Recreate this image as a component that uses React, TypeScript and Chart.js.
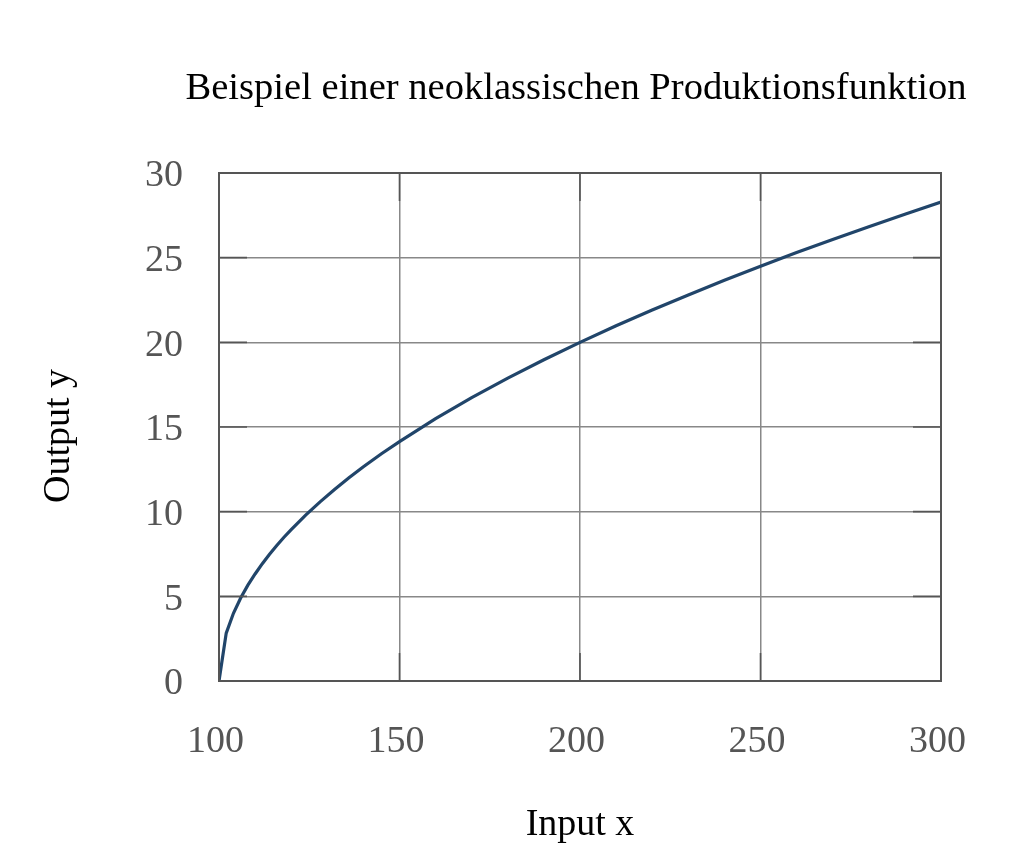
import React, { useEffect, useRef } from "react";
import { Chart, registerables } from "chart.js";

Chart.register(...registerables);

// values
const inputX = [100, 102, 104, 106, 108, 110, 112, 114, 116, 118, 120, 124, 128, 132, 136, 140, 145, 150, 160, 170, 180, 190, 200, 210, 220, 230, 240, 250, 260, 270, 280, 290, 300];
const outputY = [0, 2.83, 4.0, 4.9, 5.66, 6.32, 6.93, 7.48, 8.0, 8.49, 8.94, 9.8, 10.58, 11.31, 12.0, 12.65, 13.42, 14.14, 15.49, 16.73, 17.89, 18.97, 20.0, 20.98, 21.91, 22.8, 23.66, 24.49, 25.3, 26.08, 26.83, 27.57, 28.28];
const xTicks = [100, 150, 200, 250, 300];
const yTicks = [0, 5, 10, 15, 20, 25, 30];

const titleText = "Beispiel einer neoklassischen Produktionsfunktion";
const xTitle = "Input x";
const yTitle = "Output y";

const FONT = "'Liberation Serif', 'Times New Roman', serif";
const frameColor = "#555555";

// frame on all four sides plus inward tick marks
const framePlugin = {
  id: "frame",
  afterDatasetsDraw(chart: Chart) {
    const { ctx, chartArea } = chart;
    const { left, right, top, bottom } = chartArea;
    const xs = chart.scales.x;
    const ys = chart.scales.y;
    const len = 28;
    ctx.save();
    ctx.strokeStyle = frameColor;
    ctx.lineWidth = 1.6;
    ctx.beginPath();
    xTicks.forEach((v) => {
      const px = xs.getPixelForValue(v);
      ctx.moveTo(px, bottom);
      ctx.lineTo(px, bottom - len);
      ctx.moveTo(px, top);
      ctx.lineTo(px, top + len);
    });
    yTicks.forEach((v) => {
      const py = ys.getPixelForValue(v);
      ctx.moveTo(left, py);
      ctx.lineTo(left + len, py);
      ctx.moveTo(right, py);
      ctx.lineTo(right - len, py);
    });
    ctx.stroke();
    ctx.lineWidth = 2;
    ctx.strokeRect(left, top, right - left, bottom - top);
    ctx.restore();
  },
};

// chart title and y-axis title, placed like the reference
const titlesPlugin = {
  id: "titles",
  afterDraw(chart: Chart) {
    const { ctx, chartArea } = chart;
    const cx = (chartArea.left + chartArea.right) / 2;
    const cy = (chartArea.top + chartArea.bottom) / 2;
    ctx.save();
    ctx.fillStyle = "#000000";
    ctx.textAlign = "center";
    ctx.textBaseline = "middle";
    ctx.font = `38.6px ${FONT}`;
    ctx.fillText(titleText, cx - 4, 89);
    ctx.font = `38px ${FONT}`;
    ctx.translate(59, cy + 9);
    ctx.rotate(-Math.PI / 2);
    ctx.fillText(yTitle, 0, 0);
    ctx.restore();
  },
};

export default function App() {
  const canvasRef = useRef<HTMLCanvasElement>(null);

  useEffect(() => {
    const ctx = canvasRef.current?.getContext("2d");
    if (!ctx) return;
    const chart = new Chart(ctx, {
      type: "line",
      data: {
        datasets: [
          {
            data: inputX.map((x, i) => ({ x, y: outputY[i] })),
            borderColor: "#21456a",
            borderWidth: 3.2,
            pointRadius: 0,
            tension: 0,
            fill: false,
          },
        ],
      },
      options: {
        animation: false,
        responsive: true,
        maintainAspectRatio: false,
        layout: { padding: { left: 0, right: 83, top: 173, bottom: 0 } },
        plugins: {
          legend: { display: false },
          tooltip: { enabled: false },
          title: { display: false },
        },
        scales: {
          x: {
            type: "linear",
            min: 100,
            max: 300,
            afterBuildTicks: (scale: any) => {
              scale.ticks = xTicks.map((v) => ({ value: v }));
            },
            afterFit: (scale: any) => {
              scale.height = 173;
            },
            grid: { color: "#888888", lineWidth: 1.5, drawTicks: false },
            border: { display: false },
            ticks: {
              color: "#555555",
              padding: 38,
              labelOffset: -3.5,
              maxRotation: 0,
              font: { family: FONT, size: 38, lineHeight: 1.2 },
            },
            title: {
              display: true,
              text: xTitle,
              color: "#000000",
              font: { family: FONT, size: 38, lineHeight: 1.2 },
              padding: { top: 0, bottom: 6 },
            },
          },
          y: {
            type: "linear",
            min: 0,
            max: 30,
            afterBuildTicks: (scale: any) => {
              scale.ticks = yTicks.map((v) => ({ value: v }));
            },
            afterFit: (scale: any) => {
              scale.width = 219;
            },
            grid: { color: "#888888", lineWidth: 1.5, drawTicks: false },
            border: { display: false },
            ticks: {
              color: "#555555",
              padding: 36,
              labelOffset: 3.5,
              font: { family: FONT, size: 38, lineHeight: 1.2 },
            },
            title: { display: false },
          },
        },
      },
      plugins: [framePlugin, titlesPlugin],
    });
    return () => {
      chart.destroy();
    };
  }, []);

  return (
    <div style={{ position: "fixed", left: 0, top: 0, width: 1024, height: 854, background: "#ffffff" }}>
      <canvas ref={canvasRef} />
    </div>
  );
}
